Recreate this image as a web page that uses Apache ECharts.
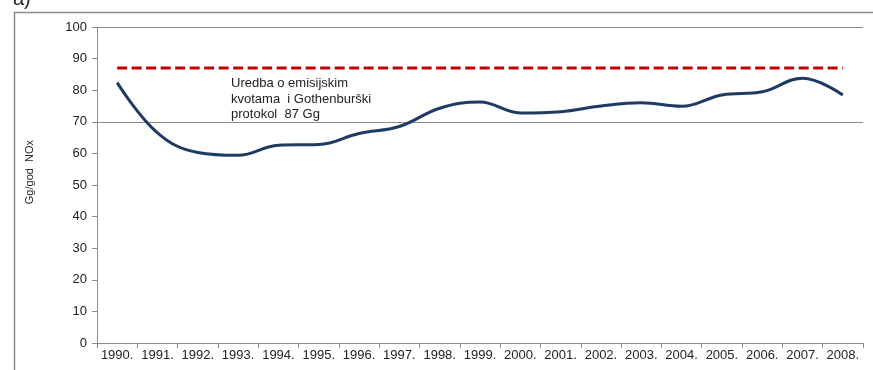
<!DOCTYPE html>
<html>
<head>
<meta charset="utf-8">
<script src="https://cdn.jsdelivr.net/npm/echarts@6/dist/echarts.min.js"></script>
<style>
html,body{margin:0;padding:0;background:#fff;}
#chart{width:873px;height:370px;}
</style>
</head>
<body>
<div id="chart"></div>
<script>
var years = ['1990.','1991.','1992.','1993.','1994.','1995.','1996.','1997.','1998.','1999.','2000.','2001.','2002.','2003.','2004.','2005.','2006.','2007.','2008.'];
var emissions = [82.4, 66.5, 60.3, 59.4, 62.6, 62.8, 66.3, 68.5, 74.3, 76.3, 72.8, 73.2, 75.0, 76.0, 74.9, 78.5, 79.5, 83.8, 78.5];
var limitValues = [87, 87, 87, 87, 87, 87, 87, 87, 87, 87, 87, 87, 87, 87, 87, 87, 87, 87, 87];
var gridValues = [70, 100];
var yTicks = [0, 10, 20, 30, 40, 50, 60, 70, 80, 90, 100];
var annotationLines = ['Uredba o emisijskim', 'kvotama  i Gothenburški', 'protokol  87 Gg'];
var axisName = 'Gg/god  NOx';
var panelLabel = 'a)';

var chart = echarts.init(document.getElementById('chart'), null, {renderer: 'canvas'});
var font = 'Liberation Sans, Arial, sans-serif';
chart.setOption({
  animation: false,
  backgroundColor: '#fff',
  grid: {left: 97, right: 10, top: 27, bottom: 27, containLabel: false},
  xAxis: {
    type: 'category',
    data: years,
    boundaryGap: true,
    axisLine: {show: true, lineStyle: {color: '#8c8c8c', width: 1}},
    axisTick: {show: true, length: 5, alignWithLabel: false, lineStyle: {color: '#8c8c8c'}},
    axisLabel: {color: '#222', fontSize: 13, fontFamily: font, margin: 6, interval: 0},
    splitLine: {show: false}
  },
  yAxis: {
    type: 'value',
    min: yTicks[0],
    max: yTicks[yTicks.length - 1],
    interval: 10,
    axisLine: {show: true, lineStyle: {color: '#8c8c8c', width: 1}},
    axisTick: {show: true, length: 5, inside: false, lineStyle: {color: '#8c8c8c'}},
    axisLabel: {color: '#222', fontSize: 13, fontFamily: font, margin: 10},
    splitLine: {show: false}
  },
  graphic: [
    {type: 'rect', left: 12, top: 10, shape: {x: 0, y: 0, width: 900, height: 400},
     style: {fill: 'none', stroke: '#8c8c8c', lineWidth: 1.5}, silent: true, z: -1},
    {type: 'text', left: 13, top: -11,
     style: {text: panelLabel, font: '20px ' + font, fill: '#222'}},
    {type: 'text', left: 24, top: 140, rotation: Math.PI / 2,
     style: {text: axisName, font: '11px ' + font, fill: '#222'}},
    {type: 'text', left: 231, top: 76,
     style: {text: annotationLines.join('\n'), font: '13px ' + font, lineHeight: 15.5, fill: '#222'}}
  ],
  series: [
    {
      type: 'line',
      data: limitValues,
      symbol: 'none',
      lineStyle: {color: '#c00000', width: 3, type: [10, 4.5]},
      z: 3
    },
    {
      type: 'line',
      data: emissions,
      symbol: 'none',
      smooth: 0.4,
      lineStyle: {color: '#1f3b64', width: 3},
      z: 4,
      markLine: {
        silent: true,
        symbol: 'none',
        label: {show: false},
        lineStyle: {color: '#8c8c8c', width: 1, type: 'solid'},
        data: gridValues.map(function (v) { return {yAxis: v}; }),
        z: 1
      }
    }
  ]
});
</script>
</body>
</html>
